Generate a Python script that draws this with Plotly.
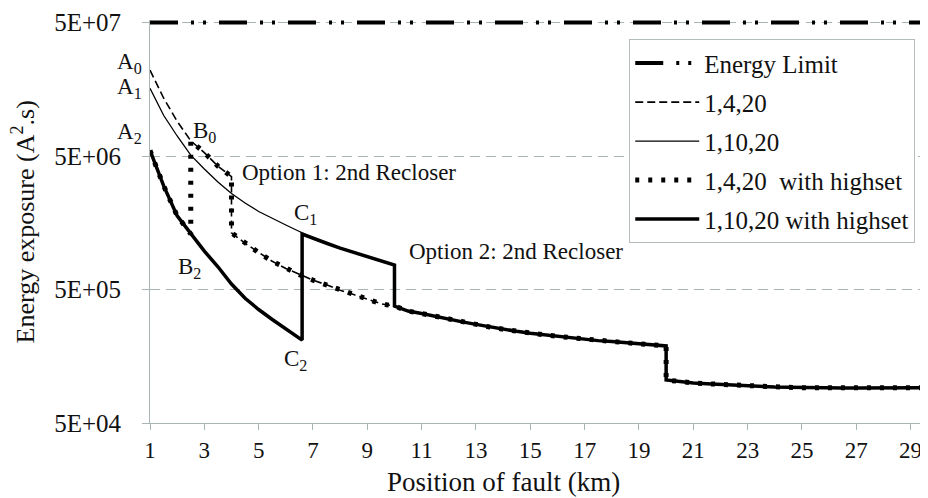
import plotly.graph_objects as go

# fault position (km) and energy exposure (A^2.s)
x_head = [1, 1.5, 2, 2.5, 3, 3.5, 4]
e_a0 = [2.20e7, 1.36e7, 9.1e6, 6.5e6, 5.3e6, 4.2e6, 3.5e6]   # 1,4,20 before 4 km

x_q = [1, 1.5, 2, 2.5, 3, 3.5, 4, 4.5, 5, 5.5, 6, 6.5, 7, 7.5, 8, 8.5, 9, 9.5, 10]
e_a1 = [1.61e7, 1.01e7, 7.06e6, 5.08e6, 4.0e6, 3.19e6, 2.62e6, 2.22e6, 1.92e6,
        1.72e6, 1.52e6, 1.36e6, 1.22e6, 1.11e6, 1.02e6, 9.46e5, 8.83e5, 8.17e5,
        7.63e5]                                               # 1,10,20 before 10 km

x_hs = [1, 1.5, 2, 2.5, 3, 3.5, 4, 4.5, 5, 5.5, 6, 6.5, 6.6]
e_a2 = [5.5e6, 3.0e6, 1.78e6, 1.3e6, 9.7e5, 7.4e5, 5.5e5, 4.3e5, 3.54e5,
        2.98e5, 2.53e5, 2.15e5, 2.09e5]                       # highset
e_c1 = 1.30e6                                                 # C1, 2nd recloser at 6.6 km

x_mid = [4, 4.5, 5, 5.5, 6, 6.5, 7, 7.5, 8, 8.5, 9, 9.5]
e_mid = [1.33e6, 1.11e6, 9.44e5, 8.13e5, 7.19e5, 6.46e5, 5.87e5, 5.42e5,
         4.93e5, 4.58e5, 4.21e5, 3.91e5]

x_tail = [10, 10.5, 11, 11.5, 12, 12.5, 13, 13.5, 14, 14.5, 15, 15.5, 16,
          16.5, 17, 17.5, 18, 18.5, 19, 19.5, 20]
e_tail = [3.76e5, 3.45e5, 3.30e5, 3.14e5, 2.98e5, 2.86e5, 2.74e5, 2.62e5,
          2.52e5, 2.43e5, 2.35e5, 2.29e5, 2.23e5, 2.17e5, 2.12e5, 2.07e5,
          2.04e5, 2.00e5, 1.96e5, 1.93e5, 1.89e5]

x_end = [20, 20.5, 21, 21.5, 22, 22.5, 23, 23.5, 24, 24.5, 25, 25.5, 26,
         26.5, 27, 27.5, 28, 28.5, 29, 29.5]
e_end = [1.05e5, 1.02e5, 9.98e4, 9.84e4, 9.71e4, 9.59e4, 9.50e4, 9.38e4,
         9.30e4, 9.25e4, 9.19e4, 9.16e4, 9.15e4, 9.15e4, 9.16e4, 9.17e4,
         9.18e4, 9.19e4, 9.2e4, 9.2e4]

energy_limit = 5e7
x_ticks = list(range(1, 30, 2))
y_ticks = [5e4, 5e5, 5e6, 5e7]
y_ticktext = ['5E+04', '5E+05', '5E+06', '5E+07']

FONT = 'Liberation Serif, Tinos, Times New Roman, DejaVu Serif, Noto Serif, serif'
INK = '#111'
GRID = '#a9b5b5'

fig = go.Figure()

# each trace in its own legend group so tracegroupgap spaces the rows out
fig.add_trace(go.Scatter(
    x=[1, 30], y=[energy_limit, energy_limit], mode='lines',
    name='Energy Limit', legendrank=1, legendgroup='g1',
    line=dict(color='black', width=4, dash='28px,13px,3px,9px,3px,13px')))

fig.add_trace(go.Scatter(
    x=x_head + x_mid + x_tail + x_end,
    y=e_a0 + e_mid + e_tail + e_end,
    mode='lines', name='1,4,20', legendrank=2, legendgroup='g2',
    line=dict(color='black', width=1.6, dash='8px,4px')))

fig.add_trace(go.Scatter(
    x=x_q + x_tail + x_end,
    y=e_a1 + e_tail + e_end,
    mode='lines', name='1,10,20', legendrank=3, legendgroup='g3',
    line=dict(color='black', width=1.3)))

fig.add_trace(go.Scatter(
    x=x_hs + [6.6] + x_q[12:] + x_tail + x_end,
    y=e_a2 + [e_c1] + e_a1[12:] + e_tail + e_end,
    mode='lines', name='1,10,20 with highset', legendrank=5, legendgroup='g5',
    line=dict(color='black', width=3.5)))

fig.add_trace(go.Scatter(
    x=x_hs[:4] + x_head[3:] + x_mid + x_tail + x_end,
    y=e_a2[:4] + e_a0[3:] + e_mid + e_tail + e_end,
    mode='lines', name='1,4,20  with highset', legendrank=4, legendgroup='g4',
    line=dict(color='black', width=5, dash='4px,9px')))

# curve labels; A0..A2 sit left of the y axis, so those use paper x
labels = [
    ('A<sub>0</sub>', -0.026, 'paper', 7.396, 'center'),
    ('A<sub>1</sub>', -0.026, 'paper', 7.208, 'center'),
    ('A<sub>2</sub>', -0.026, 'paper', 6.871, 'center'),
    ('B<sub>0</sub>', 2.99, 'x', 6.879, 'center'),
    ('B<sub>2</sub>', 2.47, 'x', 5.860, 'center'),
    ('C<sub>1</sub>', 6.74, 'x', 6.265, 'center'),
    ('C<sub>2</sub>', 6.34, 'x', 5.171, 'center'),
    ('Option 1: 2nd Recloser', 4.3, 'x', 6.572, 'left'),
    ('Option 2: 2nd Recloser', 10.45, 'x', 5.987, 'left'),
]
for txt, x, xref, y, anchor in labels:
    fig.add_annotation(x=x, xref=xref, y=y, yref='y', text=txt,
                       showarrow=False, xanchor=anchor,
                       font=dict(family=FONT, size=23, color=INK))

# axis titles (the x one sits a little off-centre in the original)
fig.add_annotation(xref='paper', yref='paper', x=0.455, y=-0.146,
                   text='Position of fault (km)', showarrow=False,
                   xanchor='center', yanchor='middle',
                   font=dict(family=FONT, size=27, color=INK))
fig.add_annotation(xref='paper', yref='paper', x=-0.162, y=0.5,
                   text='Energy exposure (A<sup>2</sup>.s)', showarrow=False,
                   textangle=-90, xanchor='center', yanchor='middle',
                   font=dict(family=FONT, size=26, color=INK))

# the page body adds an 8px margin, so the figure is shifted by that much
fig.update_layout(
    width=920, height=490,
    margin=dict(l=142, r=0, t=12, b=75),
    paper_bgcolor='white', plot_bgcolor='white',
    font=dict(family=FONT, size=22, color=INK),
    showlegend=True,
    legend=dict(x=0.616, y=0.952, xanchor='left', yanchor='top',
                bgcolor='white', bordercolor='#b5bcbc', borderwidth=1,
                font=dict(family=FONT, size=25, color=INK),
                itemwidth=64, tracegroupgap=3.5),
    xaxis=dict(range=[1, 29.64], tickvals=x_ticks, showgrid=False,
               zeroline=False, showline=True, linecolor=GRID, linewidth=1,
               ticks='outside', ticklen=6, tickcolor=GRID, automargin=False,
               tickfont=dict(family=FONT, size=23, color=INK)),
    yaxis=dict(type='log', range=[4.699, 7.7177], tickvals=y_ticks,
               ticktext=y_ticktext, showgrid=True, gridcolor=GRID,
               griddash='10px,6px', gridwidth=1, zeroline=False,
               showline=True, linecolor=GRID, linewidth=1,
               ticks='outside', ticklen=7, tickcolor=GRID, automargin=False,
               ticklabelstandoff=16,
               tickfont=dict(family=FONT, size=25, color=INK)),
)

fig.write_html('out.html')
